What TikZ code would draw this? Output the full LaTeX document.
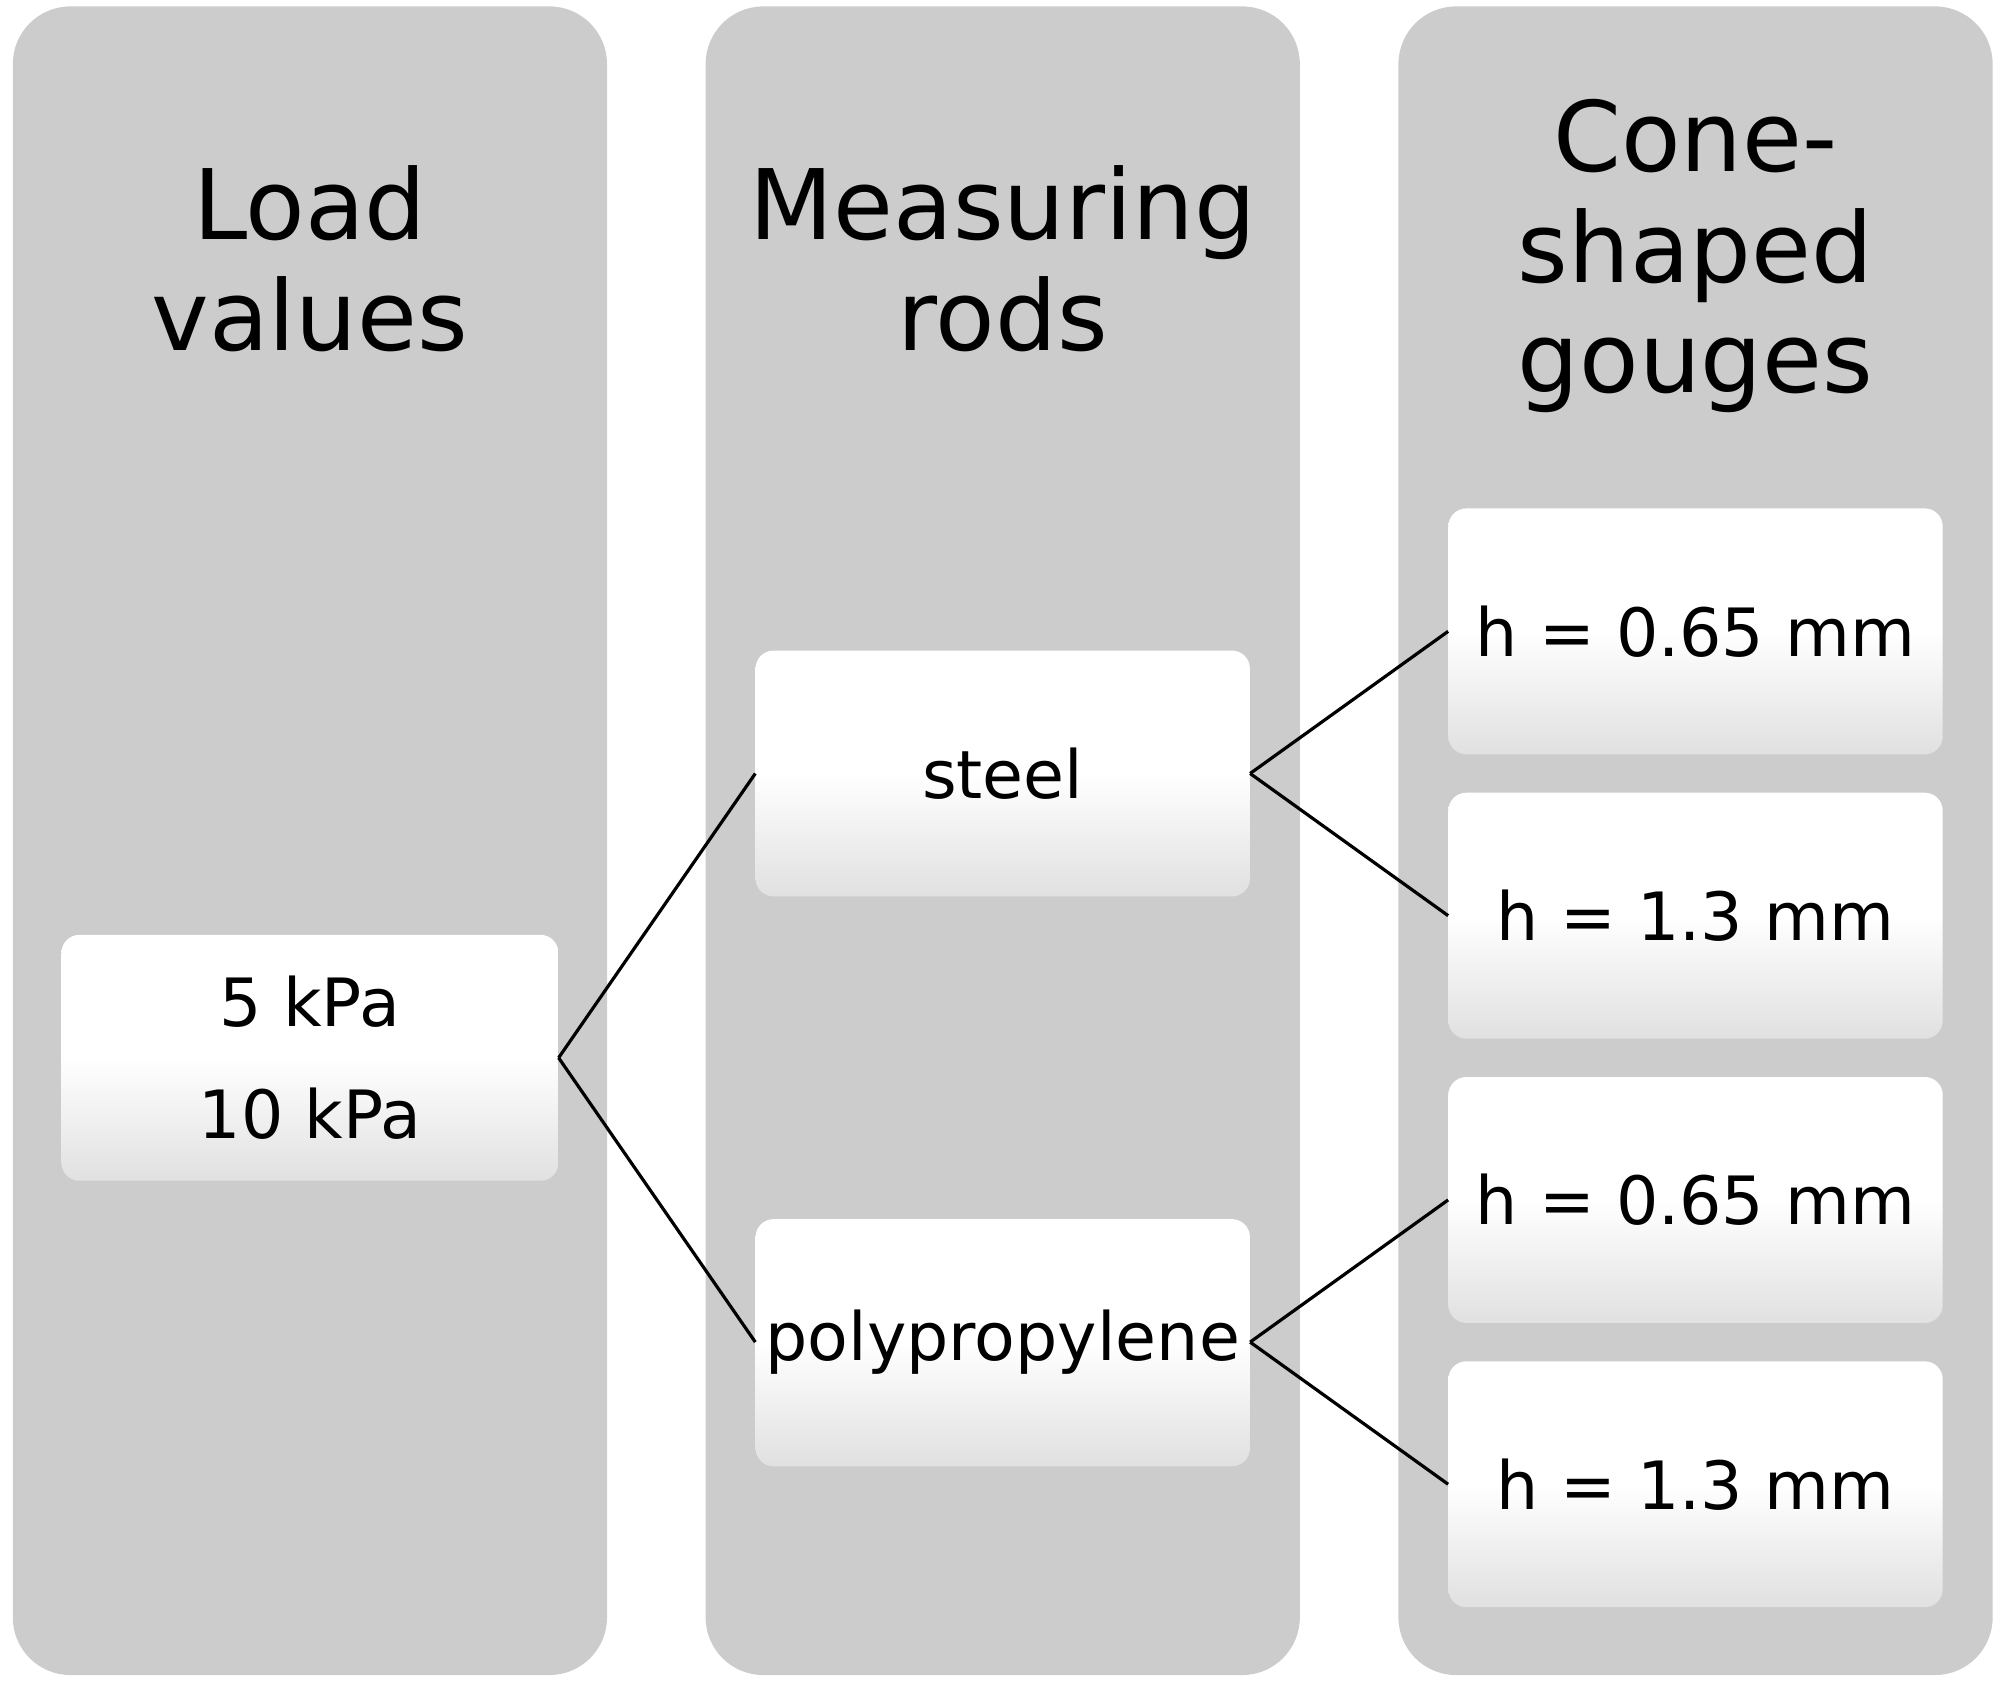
\documentclass[tikz,border=0pt]{standalone}
\usepackage{fontspec}
\setmainfont{DejaVu Sans}
\begin{document}
\begin{tikzpicture}[x=1pt,y=-1pt,
  col/.style={fill=black!20,draw=none,rounded corners=45pt},
  bx/.style={draw=none,rounded corners=14pt,top color=white,bottom color=black!12,middle color=white},
  hd/.style={font=\fontsize{76}{86}\selectfont,align=center},
  tx/.style={font=\fontsize{52}{88}\selectfont,align=center},
  ln/.style={line width=2.5pt}]
\useasboundingbox (0,0) rectangle (1568,1317);
\fill[col] (10,5) rectangle (474,1308);
\fill[col] (551,5) rectangle (1015,1308);
\fill[col] (1092,5) rectangle (1556,1308);
\node[hd] (h1) at (242,202) {Load\\values};
\node[hd] (h2) at (783,202) {Measuring\\rods};
\node[hd] (h3) at (1324,200) {Cone-\\shaped\\gouges};
\shade[bx] (48,730) rectangle (436,922);
\node[tx,minimum width=388pt,minimum height=192pt] (a) at (242,826) {5 kPa\\10 kPa};
\shade[bx] (590,508) rectangle (976,700);
\node[tx,minimum width=386pt,minimum height=192pt] (s) at (783,604) {steel};
\shade[bx] (590,952) rectangle (976,1145);
\node[tx,minimum width=386pt,minimum height=193pt] (p) at (783,1048) {polypropylene};
\foreach \n/\y/\t in {c1/397/{h = 0.65 mm},c2/619/{h = 1.3 mm},c3/841/{h = 0.65 mm},c4/1063/{h = 1.3 mm}}{
  \shade[bx] (1131,\y) rectangle (1517,\y+192);
  \node[tx,minimum width=386pt,minimum height=192pt] (\n) at (1324,\y+96) {\t};
}
\draw[ln] (a.east) -- (s.west);
\draw[ln] (a.east) -- (p.west);
\draw[ln] (s.east) -- (c1.west);
\draw[ln] (s.east) -- (c2.west);
\draw[ln] (p.east) -- (c3.west);
\draw[ln] (p.east) -- (c4.west);
\end{tikzpicture}
\end{document}
